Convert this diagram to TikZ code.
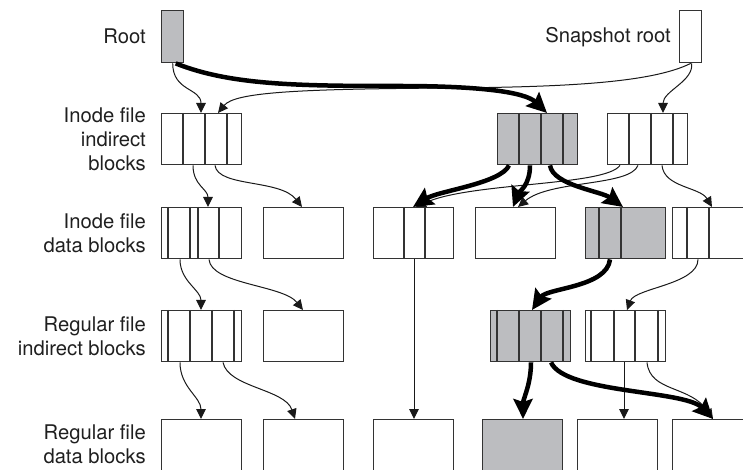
\documentclass[tikz,border=0pt]{standalone}
\usepackage{fontspec}
\setmainfont{TeX Gyre Heros}
\usetikzlibrary{arrows.meta,calc,positioning}
\definecolor{blockgray}{HTML}{BCBDC0}
\definecolor{inkline}{HTML}{333333}

\begin{document}
\begin{tikzpicture}[x=1bp,y=-1bp,font=\fontsize{20.3}{24}\selectfont,
  blk/.style={draw=inkline,line width=1.4bp,fill=white,inner sep=0pt,anchor=north west,
    minimum width=80bp,minimum height=51bp},
  grayblk/.style={blk,fill=blockgray},
  divider/.style={inkline,line width=1.4bp},
  lbl/.style={align=right,inner sep=0pt,text=black!88},
  ptr/.style={black!90,line width=1bp,-{Triangle[length=10bp,width=9.5bp]}},
  heavy/.style={black,line width=4.5bp,-{Stealth[length=20bp,width=19bp,inset=3bp]}}]
  \useasboundingbox (0,0) rectangle (743,470);
  \clip (0,0) rectangle (743,470);

  % roots
  \node[grayblk,minimum width=22bp,minimum height=52bp] (root) at (161,10) {};
  \node[blk,minimum width=22bp,minimum height=52bp] (snap) at (679,10) {};
  \node[lbl,left=15bp of root] (rootlbl) {Root};
  \node[lbl,left=8bp of snap] (snaplbl) {Snapshot root};

  % inode file indirect blocks
  \node[blk] (ia) at (161,113) {};
  \node[grayblk] (ib) at (497,113) {};
  \node[blk] (ic) at (607,113) {};
  % inode file data blocks
  \node[blk] (da) at (161,207) {};
  \node[blk] (db) at (263,207) {};
  \node[blk] (dc) at (373,207) {};
  \node[blk] (dd) at (475,207) {};
  \node[grayblk] (de) at (585,207) {};
  \node[blk,minimum width=90bp] (df) at (672,207) {};
  % regular file indirect blocks
  \node[blk] (ra) at (161,310) {};
  \node[blk] (rb) at (263,310) {};
  \node[grayblk] (rc) at (490,310) {};
  \node[blk] (rd) at (585,310) {};
  % regular file data blocks (cut off at the bottom)
  \node[blk,minimum height=60bp] (ta) at (161,419) {};
  \node[blk,minimum height=60bp] (tb) at (263,419) {};
  \node[blk,minimum height=60bp] (tc) at (373,419) {};
  \node[grayblk,minimum height=60bp] (td) at (482,419) {};
  \node[blk,minimum height=60bp] (te) at (577,419) {};
  \node[blk,minimum width=90bp,minimum height=60bp] (tf) at (672,419) {};

  % slots inside the blocks
  \foreach \n/\d in {ia/22,ia/44,ia/66,ib/22,ib/44,ib/66,ic/22,ic/44,ic/66,
      da/7,da/29,da/37,da/58,dc/31,dc/52,de/14,de/36,df/15,df/37,
      ra/7,ra/29,ra/51,ra/73,rc/7,rc/29,rc/51,rc/73,rd/6,rd/29,rd/50,rd/73}
    \draw[divider] ($(\n.north west)+(\d,0)$) -- ($(\n.south west)+(\d,0)$);

  % row labels
  \node[lbl,left=15bp of ia] (lblia) {Inode file\\indirect\\blocks};
  \node[lbl,left=15bp of da] (lblda) {Inode file\\data blocks};
  \node[lbl,left=15bp of ra] (lblra) {Regular file\\indirect blocks};
  \node[lbl,anchor=east] (lblta) at ($(ta.north west)+(-15,25.5)$) {Regular file\\data blocks};

  % pointers of the snapshot (old tree)
  \draw[ptr] (root.south) .. controls +(0,28) and +(0,-25) .. ($(ia.north west)+(40,0)$);
  \draw[ptr] (snap.south) .. controls +(-40,20) and +(110,-1) .. (450,88)
    .. controls +(-150,1) and +(17,-21) .. ($(ia.north west)+(57,0)$);
  \draw[ptr] ($(snap.south)+(1,0)$) .. controls +(2,18) and +(0,-22) .. ($(ic.north west)+(56,0)$);
  \draw[ptr] ($(ia.south west)+(32,0)$) .. controls +(0,20) and +(0,-18) .. ($(da.north west)+(47,0)$);
  \draw[ptr] ($(ia.south west)+(54,0)$) .. controls +(3,22) and +(-22,-28) .. ($(db.north west)+(39,0)$);
  \draw[ptr] ($(ic.south west)+(13,0)$) .. controls +(-15,21) and +(54,-25) .. ($(dc.north west)+(43,0)$);
  \draw[ptr] ($(ic.south west)+(31,0)$) .. controls +(-8,21) and +(32,-27) .. ($(dd.north west)+(43,0)$);
  \draw[ptr] ($(ic.south west)+(55,0)$) .. controls +(2,22) and +(-12,-20) .. ($(df.north west)+(40,0)$);
  \draw[ptr] ($(da.south west)+(19,0)$) .. controls +(0,22) and +(0,-20) .. ($(ra.north west)+(40,0)$);
  \draw[ptr] ($(da.south west)+(48,0)$) .. controls +(2,25) and +(-20,-25) .. ($(rb.north west)+(40,0)$);
  \draw[ptr] ($(dc.south west)+(41,0)$) -- ($(tc.north west)+(41,0)$);
  \draw[ptr] ($(df.south west)+(26,0)$) .. controls +(0,25) and +(8,-22) .. ($(rd.north west)+(42,0)$);
  \draw[ptr] ($(ra.south west)+(19,0)$) .. controls +(0,25) and +(0,-22) .. ($(ta.north west)+(40,0)$);
  \draw[ptr] ($(ra.south west)+(62,0)$) .. controls +(5,25) and +(-10,-30) .. ($(tb.north west)+(32,0)$);
  \draw[ptr] ($(rd.south west)+(39,0)$) -- ($(te.north west)+(47,0)$);
  \draw[ptr] ($(rd.south west)+(62,0)$) .. controls +(3,30) and +(-23,-34) .. ($(tf.north west)+(41,0)$);

  % pointers of the active file system (new tree)
  \draw[heavy] ($(root.south)+(3,0)$) .. controls +(55,22) and +(-100,0) .. (400,86)
    .. controls +(80,0) and +(-22,-21) .. ($(ib.north west)+(50,0)$);
  \draw[heavy] ($(ib.south west)+(12,0)$) .. controls +(-8,18) and +(25,-16) .. ($(dc.north west)+(40,0)$);
  \draw[heavy] ($(ib.south west)+(33,0)$) .. controls +(0,20) and +(6,-15) .. ($(dd.north west)+(38,0)$);
  \draw[heavy] ($(ib.south west)+(53,0)$) .. controls +(3,20) and +(-22,-16) .. ($(de.north west)+(38,0)$);
  \draw[heavy] ($(de.south west)+(25,0)$) .. controls +(-3,28) and +(15,-22) .. ($(rc.north west)+(42,0)$);
  \draw[heavy] ($(rc.south west)+(41,0)$) .. controls +(0,22) and +(0,-20) .. ($(td.north west)+(41,0)$);
  \draw[heavy] ($(rc.south west)+(61,0)$) .. controls +(14,31) and +(-28,-29) .. ($(tf.north west)+(41,0)$);
\end{tikzpicture}
\end{document}
